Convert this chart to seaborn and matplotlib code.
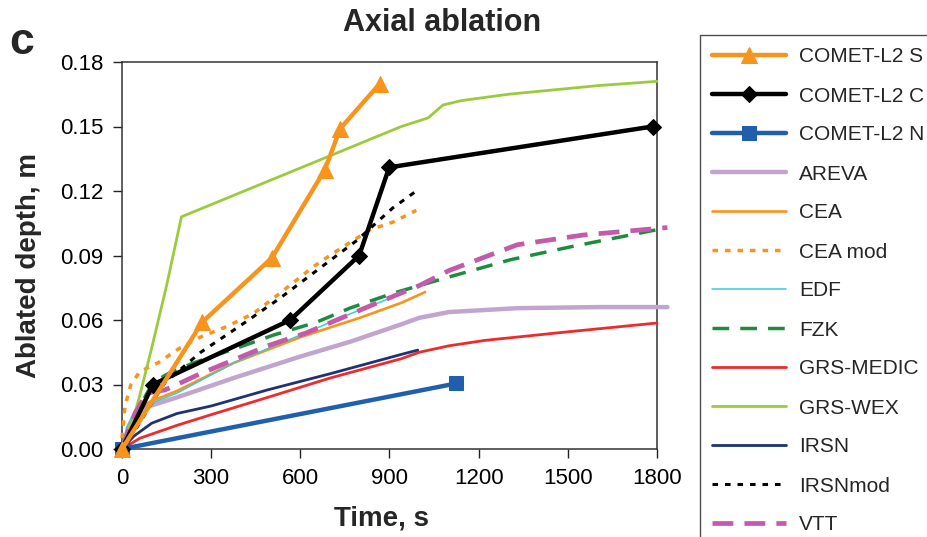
import matplotlib
matplotlib.use("Agg")
import matplotlib.pyplot as plt
import seaborn as sns
import pandas as pd

# ---------------- data ----------------
comet_s_t = [0, 270, 505, 683, 734, 868]
comet_s_d = [0.0, 0.059, 0.089, 0.130, 0.149, 0.170]

comet_c_t = [0, 104, 566, 798, 899, 1785]
comet_c_d = [0.0, 0.030, 0.060, 0.090, 0.131, 0.150]

comet_n_t = [0, 1125]
comet_n_d = [0.0, 0.0305]

areva_t = [0, 20, 70, 185, 375, 600, 770, 940, 1000, 1100, 1330, 1600, 1835]
areva_d = [0.0, 0.008, 0.019, 0.024, 0.033, 0.043, 0.050, 0.058, 0.061, 0.0637, 0.0655, 0.066, 0.066]

cea_t = [0, 20, 50, 94, 185, 375, 600, 800, 940, 1020]
cea_d = [0.0, 0.010, 0.018, 0.022, 0.027, 0.040, 0.052, 0.061, 0.068, 0.073]

ceamod_t = [0, 10, 30, 60, 120, 195, 263, 353, 442, 532, 643, 710, 835, 913, 990]
ceamod_d = [0.005, 0.020, 0.030, 0.036, 0.040, 0.047, 0.052, 0.057, 0.063, 0.0725, 0.0847, 0.091, 0.102, 0.1056, 0.111]

edf_t = [0, 15, 40, 94, 185, 375, 600, 770, 900]
edf_d = [0.0, 0.010, 0.017, 0.021, 0.026, 0.040, 0.053, 0.063, 0.070]

fzk_t = [0, 40, 80, 105, 155, 240, 408, 510, 655, 768, 913, 1100, 1306, 1508, 1800]
fzk_d = [0.0, 0.012, 0.025, 0.031, 0.035, 0.040, 0.048, 0.053, 0.059, 0.0656, 0.0725, 0.080, 0.088, 0.094, 0.102]

medic_t = [0, 60, 185, 296, 490, 700, 940, 1000, 1100, 1220, 1500, 1800]
medic_d = [0.0, 0.005, 0.011, 0.0158, 0.024, 0.033, 0.042, 0.045, 0.048, 0.0505, 0.0545, 0.0586]

wex_t = [0, 20, 60, 100, 150, 200, 570, 940, 1030, 1080, 1140, 1300, 1450, 1600, 1800]
wex_d = [0.0, 0.005, 0.025, 0.047, 0.076, 0.108, 0.129, 0.150, 0.154, 0.160, 0.162, 0.165, 0.167, 0.169, 0.171]

irsn_t = [0, 40, 100, 185, 300, 490, 700, 940, 995]
irsn_d = [0.0, 0.006, 0.012, 0.0165, 0.020, 0.0275, 0.035, 0.044, 0.046]

irsnmod_t = [0, 50, 94, 145, 265, 410, 530, 655, 790, 910, 1000]
irsnmod_d = [0.0, 0.010, 0.020, 0.031, 0.045, 0.0585, 0.070, 0.083, 0.097, 0.112, 0.121]

vtt_t = [0, 20, 45, 85, 145, 185, 263, 490, 620, 825, 1000, 1100, 1330, 1550, 1835]
vtt_d = [0.0, 0.008, 0.017, 0.026, 0.0275, 0.030, 0.035, 0.048, 0.054, 0.066, 0.076, 0.083, 0.095, 0.0995, 0.103]

x_ticks = [0, 300, 600, 900, 1200, 1500, 1800]
y_ticks = [0.00, 0.03, 0.06, 0.09, 0.12, 0.15, 0.18]

# ---------------- styling ----------------
sns.set_theme(style="ticks")
plt.rcParams['font.family'] = ['Liberation Sans', 'DejaVu Sans']
plt.rcParams['lines.scale_dashes'] = False
plt.rcParams['lines.solid_capstyle'] = 'round'

series = [
    ("COMET-L2 S", comet_s_t, comet_s_d, dict(color="#F7941D", lw=3.2, marker="^", ms=12, ls="-")),
    ("COMET-L2 C", comet_c_t, comet_c_d, dict(color="#000000", lw=3.2, marker="D", ms=8.5, ls="-")),
    ("COMET-L2 N", comet_n_t, comet_n_d, dict(color="#1F5FAD", lw=3.2, marker="s", ms=10, ls="-")),
    ("AREVA", areva_t, areva_d, dict(color="#C2A5CF", lw=3.2, ls="-")),
    ("CEA", cea_t, cea_d, dict(color="#F7941D", lw=1.9, ls="-")),
    ("CEA mod", ceamod_t, ceamod_d, dict(color="#F7941D", lw=2.5, ls=(0, (4, 5)))),
    ("EDF", edf_t, edf_d, dict(color="#3CC8D8", lw=1.1, ls="-")),
    ("FZK", fzk_t, fzk_d, dict(color="#1E8C3E", lw=2.5, ls=(0, (12, 8)))),
    ("GRS-MEDIC", medic_t, medic_d, dict(color="#EE2B2B", lw=2.0, ls="-")),
    ("GRS-WEX", wex_t, wex_d, dict(color="#9BCB3C", lw=2.0, ls="-")),
    ("IRSN", irsn_t, irsn_d, dict(color="#1F3374", lw=2.0, ls="-")),
    ("IRSNmod", irsnmod_t, irsnmod_d, dict(color="#000000", lw=2.2, ls=(0, (4, 5)))),
    ("VTT", vtt_t, vtt_d, dict(color="#C45AAC", lw=3.4, ls=(0, (15, 8)))),
]

W, H = 928, 537
fig = plt.figure(figsize=(W / 100, H / 100), dpi=100)
ax = fig.add_axes([122 / W, 1 - 449 / H, (657 - 122) / W, (449 - 62) / H])

# draw in reverse order so COMET series sit on top
order = list(range(3, len(series))) + [2, 1, 0]
for i in order:
    name, t, d, st = series[i]
    df = pd.DataFrame({"t": t, "d": d})
    kw = dict(color=st["color"], linewidth=st["lw"], linestyle=st["ls"])
    if "marker" in st:
        kw.update(marker=st["marker"], markersize=st["ms"],
                  markeredgecolor=st["color"], markerfacecolor=st["color"])
    sns.lineplot(data=df, x="t", y="d", ax=ax, sort=False, estimator=None,
                 label=name, clip_on=False, zorder=3 + (10 if i < 3 else 0), **kw)

ax.set_xlim(0, 1800)
ax.set_ylim(0, 0.18)
ax.set_xticks(x_ticks)
ax.set_xticklabels([str(v) for v in x_ticks])
ax.set_yticks(y_ticks)
ax.set_yticklabels([f"{v:.2f}" for v in y_ticks])
ax.tick_params(axis="both", direction="out", length=6.5, width=1.0,
               labelsize=16, pad=7, colors="#222222", labelcolor="black")

for side in ["left", "bottom", "top", "right"]:
    ax.spines[side].set_visible(True)
    ax.spines[side].set_linewidth(1.1)
    ax.spines[side].set_color("#333333")

ax.set_xlabel("Time, s", fontsize=20, fontweight="bold")
ax.set_ylabel("Ablated depth, m", fontsize=20, fontweight="bold")
ax.xaxis.set_label_coords((382 - 122) / 535, (449 - 506) / 387)
ax.yaxis.set_label_coords((42 - 122) / 535, (449 - 266) / 387)

fig.text(442 / W, 1 - 23 / H, "Axial ablation", fontsize=22, fontweight="bold",
         ha="center", va="center")
fig.text(22 / W, 1 - 42 / H, "c", fontsize=32, fontweight="bold",
         ha="center", va="center")

# legend in original order
handles, labels = ax.get_legend_handles_labels()
lookup = dict(zip(labels, handles))
names = [s[0] for s in series]
ax.get_legend().remove()
leg = fig.legend([lookup[n] for n in names], names, loc="upper left",
                 bbox_to_anchor=(700 / W, 1 - 35 / H), fontsize=15,
                 frameon=True, fancybox=False, edgecolor="#222222",
                 handlelength=3.55, handletextpad=0.6, labelspacing=0.96,
                 borderpad=0.6, borderaxespad=0, numpoints=1)
leg.get_frame().set_linewidth(1.0)

fig.savefig("out.png", dpi=100)
